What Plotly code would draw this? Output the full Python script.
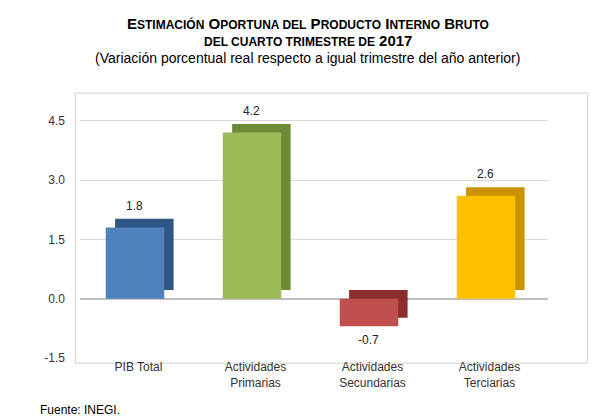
import plotly.graph_objects as go

categorias = ["PIB Total", "Actividades<br>Primarias", "Actividades<br>Secundarias", "Actividades<br>Terciarias"]
valores = [1.8, 4.2, -0.7, 2.6]
colores = ["#4f81bd", "#9bbb59", "#c0504d", "#ffc000"]
colores_lado = ["#2f5587", "#6d8a37", "#8c2f2c", "#c99400"]
ticks = [-1.5, 0.0, 1.5, 3.0, 4.5]

prof = 0.22  # profundidad simulada (unidades de eje)

fig = go.Figure()
# cara lateral / superior (efecto 3D)
fig.add_trace(go.Bar(
    x=categorias, y=valores, base=[prof] * len(valores),
    marker=dict(color=colores_lado, line=dict(width=0)),
    width=0.5, offset=-0.2, hoverinfo="skip", showlegend=False))
# cara frontal
fig.add_trace(go.Bar(
    x=categorias, y=valores,
    marker=dict(color=colores, line=dict(width=0)),
    width=0.5, offset=-0.28, showlegend=False))

anots = []
for c, v in zip(categorias, valores):
    anots.append(dict(x=c, y=v + (0.55 if v > 0 else -0.35), text=f"{v:.1f}", showarrow=False,
                      xshift=-4, font=dict(size=12, color="#222")))

sc = "font-size:12px"
titulos = [
    (1.283, f"<b>E<span style='{sc}'>STIMACIÓN</span> O<span style='{sc}'>PORTUNA DEL</span> P<span style='{sc}'>RODUCTO</span> I<span style='{sc}'>NTERNO</span> B<span style='{sc}'>RUTO</span></b>", 15),
    (1.215, f"<b><span style='{sc}'>DEL CUARTO TRIMESTRE DE</span> 2017</b>", 15),
    (1.149, "(Variación porcentual real respecto a igual trimestre del año anterior)", 14),
]
for y, t, s in titulos:
    anots.append(dict(text=t, xref="paper", yref="paper", x=0.487, y=y, xanchor="center",
                      yanchor="middle", showarrow=False, font=dict(size=s, color="#000")))
anots.append(dict(text="Fuente: INEGI.", xref="paper", yref="paper", x=-0.09, y=-0.2,
                  xanchor="left", yanchor="middle", showarrow=False,
                  font=dict(size=12, color="#000")))

fig.update_layout(
    barmode="overlay",
    width=603, height=420,
    paper_bgcolor="white", plot_bgcolor="white",
    margin=dict(l=72, r=63, t=89, b=70),
    font=dict(family="Liberation Sans, Arial", color="#333", size=12),
    xaxis=dict(showline=False, ticks="", tickfont=dict(size=12, color="#333")),
    yaxis=dict(range=[-1.5, 5.1], tickvals=ticks, ticktext=[f"{t:.1f}" for t in ticks],
               showgrid=True, gridcolor="#d9d9d9", zeroline=True, zerolinecolor="#bfbfbf",
               showline=False, tickfont=dict(size=12, color="#333"), ticklabelstandoff=14),
    shapes=[dict(type="rect", xref="paper", yref="paper", x0=-0.01, x1=1.085, y0=-0.02, y1=1.015,
                 line=dict(color="#d0d0d0", width=1), layer="below")],
    annotations=anots,
)

fig.write_html("out.html")
